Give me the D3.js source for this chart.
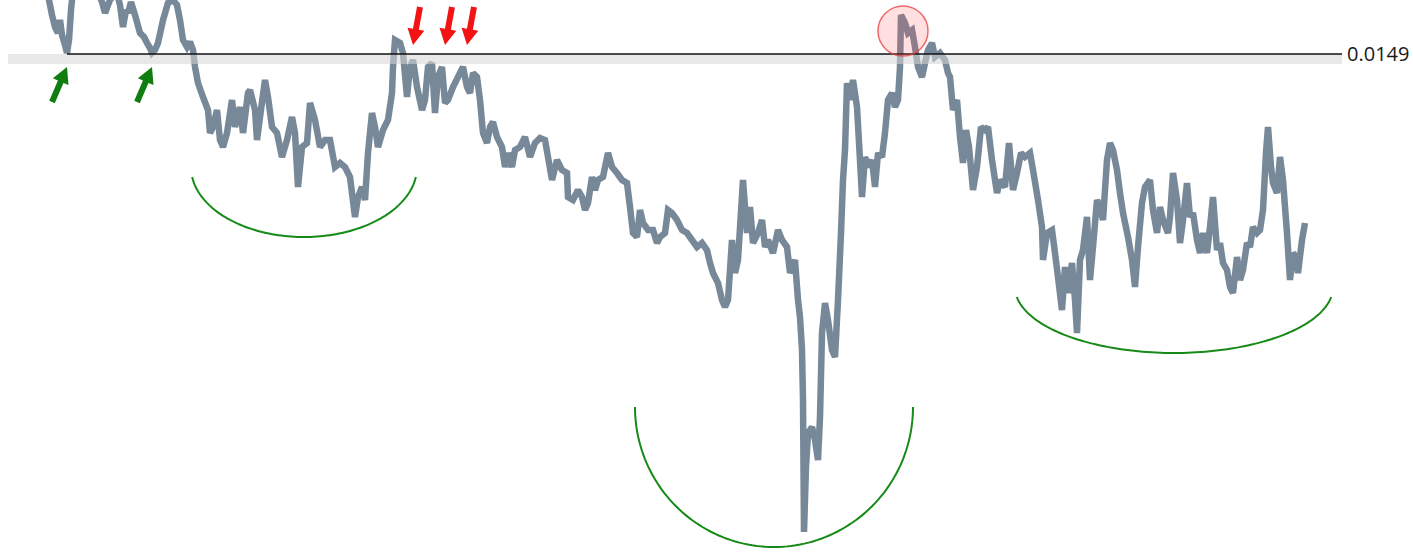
<!DOCTYPE html>
<html>
<head>
<meta charset="utf-8">
<script src="https://cdn.jsdelivr.net/npm/d3@7"></script>
<style>
  html, body { margin: 0; padding: 0; background: #ffffff; overflow: hidden; }
  svg { display: block; }
</style>
</head>
<body>
<svg id="chart" width="1413" height="552"></svg>
<script>
// ---- data (day index, price) ----
const days = [
  0,2,4,7,10,12,14,17,19,21,23,25,30,37,44,50,54,57,60,62,66,70,72,75,78,80,83,87,92,96,99,102,104,107,110,115,120,125,129,132,135,139,142,145,147,150,155,160,162,165,169,172,175,179,184,187,192,195,200,
  202,207,209,212,217,220,224,229,234,239,244,247,250,254,259,262,267,272,277,282,287,292,297,302,307,310,314,317,320,324,327,330,335,340,344,345,347,352,355,359,362,365,369,374,377,380,384,387,390,394,397,400,405,410,415,419,422,425,429,432,
  435,439,442,445,449,454,457,460,464,467,472,477,482,487,492,497,500,504,509,514,519,520,525,530,534,537,540,544,547,550,555,560,564,569,574,579,582,585,589,592,595,600,605,609,612,617,620,624,629,634,639,644,649,654,659,662,665,670,674,677,680,
  684,687,690,695,699,702,705,710,714,717,720,725,730,734,739,742,747,750,752,754,755,755.5,756,758,760,764,767,770,772,774,777,780,784,787,790,793,795,797,799,802,805,809,812,814,817,820,824,827,830,834,837,840,844,847,850,852,853,857,860,864,867,870,874,877,880,884,887,892,897,900,
  902,905,909,912,915,918,921,925,929,933,937,940,944,949,952,957,961,965,969,973,977,982,985,990,994,995,999,1004,1007,1010,1014,1017,1020,1024,1027,1029,1032,1035,1039,1042,1045,1049,1052,1055,1059,1062,1065,1069,1072,1075,1080,1084,1087,1090,1094,1097,1102,1105,1109,1112,1115,1120,
  1122,1125,1129,1132,1135,1139,1142,1145,1149,1152,1155,1159,1162,1165,1169,1172,1175,1179,1182,1185,1189,1192,1195,1199,1202,1205,1209,1212,1215,1218,1220,1223,1225,1229,1232,1235,1237,1239,1242,1245,1248,1250,1254,1257
];
const prices = [
  0.01549,0.01539,0.01529,0.01517,0.01511,0.01524,0.01509,0.01499,0.01491,0.01504,0.01534,0.01554,0.01562,0.01564,0.01559,0.01552,0.01542,0.01531,0.01539,0.01544,0.01549,0.01547,0.01539,0.01517,0.01534,0.01531,0.01542,0.01529,0.01511,0.01507,0.01501,0.01496,0.01491,0.01494,0.01501,0.01524,0.01541,0.01544,0.01539,0.01524,0.01504,0.01497,0.01502,0.01494,0.01477,0.01461,0.01447,0.01434,0.01411,0.01417,0.01434,0.01404,0.01397,0.01411,0.01444,0.01417,0.01437,0.01411,0.01451,
  0.01454,0.01434,0.01404,0.01427,0.01464,0.01447,0.01417,0.01411,0.01387,0.01404,0.01427,0.01411,0.01357,0.01397,0.01401,0.01441,0.01424,0.01397,0.01404,0.01404,0.01377,0.01381,0.01377,0.01367,0.01327,0.01347,0.01357,0.01344,0.01391,0.01431,0.01417,0.01397,0.01414,0.01424,0.01451,0.01477,0.01504,0.01501,0.01491,0.01447,0.01477,0.01484,0.01457,0.01434,0.01444,0.01477,0.01481,0.01431,0.01467,0.01477,0.01441,0.01444,0.01457,0.01467,0.01477,0.01457,0.01451,0.01471,0.01467,0.01444,
  0.01411,0.01401,0.01417,0.01422,0.01407,0.01397,0.01377,0.01391,0.01377,0.01394,0.01397,0.01407,0.01387,0.01401,0.01406,0.01404,0.01387,0.01364,0.01384,0.01374,0.01371,0.01347,0.01344,0.01354,0.01347,0.01334,0.01341,0.01367,0.01354,0.01364,0.01367,0.01391,0.01377,0.01371,0.01364,0.01361,0.01337,0.01311,0.01307,0.01334,0.01321,0.01314,0.01314,0.01301,0.01307,0.01311,0.01334,0.01331,0.01324,0.01314,0.01311,0.01304,0.01297,0.01301,0.01294,0.01281,0.01271,0.01261,0.01244,0.01237,0.01244,
  0.01304,0.01271,0.01284,0.01364,0.01311,0.01337,0.01301,0.01311,0.01324,0.01297,0.01304,0.01291,0.01314,0.01304,0.01297,0.01271,0.01284,0.01244,0.01227,0.01194,0.01144,0.01077,0.01012,0.01077,0.01111,0.01117,0.01104,0.01084,0.01127,0.01211,0.01241,0.01224,0.01194,0.01187,0.01244,0.01311,0.01364,0.01394,0.01461,0.01444,0.01464,0.01437,0.01384,0.01347,0.01387,0.01377,0.01384,0.01357,0.01391,0.01387,0.01411,0.01444,0.01451,0.01437,0.01444,0.01477,0.01529,0.01521,0.01511,0.01514,0.01497,0.01477,0.01467,0.01481,0.01494,0.01501,0.01487,0.01491,0.01484,0.01471,
  0.01467,0.01434,0.01444,0.01407,0.01381,0.01414,0.01397,0.01354,0.01377,0.01417,0.01414,0.01417,0.01384,0.01351,0.01364,0.01357,0.01401,0.01354,0.01371,0.01391,0.01387,0.01391,0.01374,0.01344,0.01317,0.01284,0.01311,0.01314,0.01291,0.01267,0.01234,0.01277,0.01251,0.01281,0.01244,0.01211,0.01284,0.01294,0.01327,0.01264,0.01297,0.01344,0.01337,0.01324,0.01384,0.01401,0.01394,0.01374,0.01351,0.01331,0.01307,0.01284,0.01257,0.01297,0.01341,0.01357,0.01364,0.01334,0.01311,0.01337,0.01324,0.01311,
  0.01327,0.01371,0.01344,0.01301,0.01324,0.01361,0.01327,0.01331,0.01304,0.01291,0.01311,0.01291,0.01317,0.01347,0.01294,0.01301,0.01281,0.01274,0.01257,0.01251,0.01287,0.01264,0.01274,0.01301,0.01297,0.01317,0.01311,0.01314,0.01334,0.01391,0.01417,0.01377,0.01361,0.01351,0.01387,0.01364,0.01337,0.01311,0.01264,0.01291,0.01287,0.01271,0.01304,0.01321
];
const levelValue = 0.0149;
const greenArrowDays = [19, 104];
const redArrowDays = [365, 397, 419];
const circleDay = 855, circlePrice = 0.01513;
const arcCenterDays = [256, 726, 1126];

// ---- scales ----
const x = d3.scaleLinear().domain(d3.extent(days)).range([48, 1305]);
const y = d3.scaleLinear().domain([0.0101, 0.0149]).range([534, 54]);

const svg = d3.select("#chart");
const data = days.map((d, i) => ({ d, p: prices[i] }));

// price line
svg.append("path")
  .datum(data)
  .attr("d", d3.line().x(v => x(v.d)).y(v => y(v.p)))
  .attr("fill", "none")
  .attr("stroke", "#778899")
  .attr("stroke-width", 6.5)
  .attr("stroke-linejoin", "miter")
  .attr("stroke-miterlimit", 2);

const ly = y(levelValue);

// light band under level
svg.append("rect")
  .attr("x", 8).attr("y", ly).attr("width", 1334).attr("height", 10)
  .attr("fill", "#d6d6d6").attr("opacity", 0.55);

// level line
svg.append("line")
  .attr("x1", x(19)).attr("x2", 1342)
  .attr("y1", ly).attr("y2", ly)
  .attr("stroke", "#111").attr("stroke-width", 1.5);

svg.append("text")
  .attr("x", 1347).attr("y", ly + 7)
  .attr("font-family", "'Open Sans', 'Noto Sans', sans-serif")
  .attr("font-size", 20)
  .attr("fill", "#1a1a1a")
  .text(d3.format(".4f")(levelValue));

// red circle
svg.append("circle")
  .attr("cx", x(circleDay)).attr("cy", y(circlePrice)).attr("r", 25)
  .attr("fill", "rgba(255,80,80,0.18)")
  .attr("stroke", "rgba(230,60,60,0.75)")
  .attr("stroke-width", 1.5);

// arrows
function arrow(tip, tail, color) {
  const dx = tip[0] - tail[0], dy = tip[1] - tail[1];
  const L = Math.hypot(dx, dy);
  const ux = dx / L, uy = dy / L, nx = -uy, ny = ux;
  const headLen = 16, headW = 8.5, shaftW = 3;
  const bx = tip[0] - ux * headLen, by = tip[1] - uy * headLen;
  const pts = [
    [tail[0] + nx * shaftW, tail[1] + ny * shaftW],
    [bx + nx * shaftW, by + ny * shaftW],
    [bx + nx * headW, by + ny * headW],
    tip,
    [bx - nx * headW, by - ny * headW],
    [bx - nx * shaftW, by - ny * shaftW],
    [tail[0] - nx * shaftW, tail[1] - ny * shaftW]
  ];
  svg.append("polygon").attr("points", pts.map(p => p.join(",")).join(" ")).attr("fill", color);
}
greenArrowDays.forEach(d => {
  const tx = x(d), ty = ly + 13;
  arrow([tx, ty], [tx - 15, ty + 35], "#0f7d0f");
});
redArrowDays.forEach(d => {
  const tx = x(d), ty = ly - 9;
  arrow([tx, ty], [tx + 7, ty - 38], "#f21414");
});

// green arcs
const arcs = [
  { d: arcCenterDays[0], cy: 167, rx: 113, ry: 70, endDy: 10 },
  { d: arcCenterDays[1], cy: 407, rx: 139, ry: 140, endDy: 0 },
  { d: arcCenterDays[2], cy: 287, rx: 159, ry: 66, endDy: 10 }
];
arcs.forEach(a => {
  const t0 = Math.asin(a.endDy / a.ry), t1 = Math.PI - t0;
  const pts = d3.range(0, 101).map(i => {
    const t = t0 + (t1 - t0) * i / 100;
    return [x(a.d) + a.rx * Math.cos(t), a.cy + a.ry * Math.sin(t)];
  });
  svg.append("path")
    .attr("d", d3.line()(pts))
    .attr("fill", "none")
    .attr("stroke", "#168a16")
    .attr("stroke-width", 2);
});
</script>
</body>
</html>
